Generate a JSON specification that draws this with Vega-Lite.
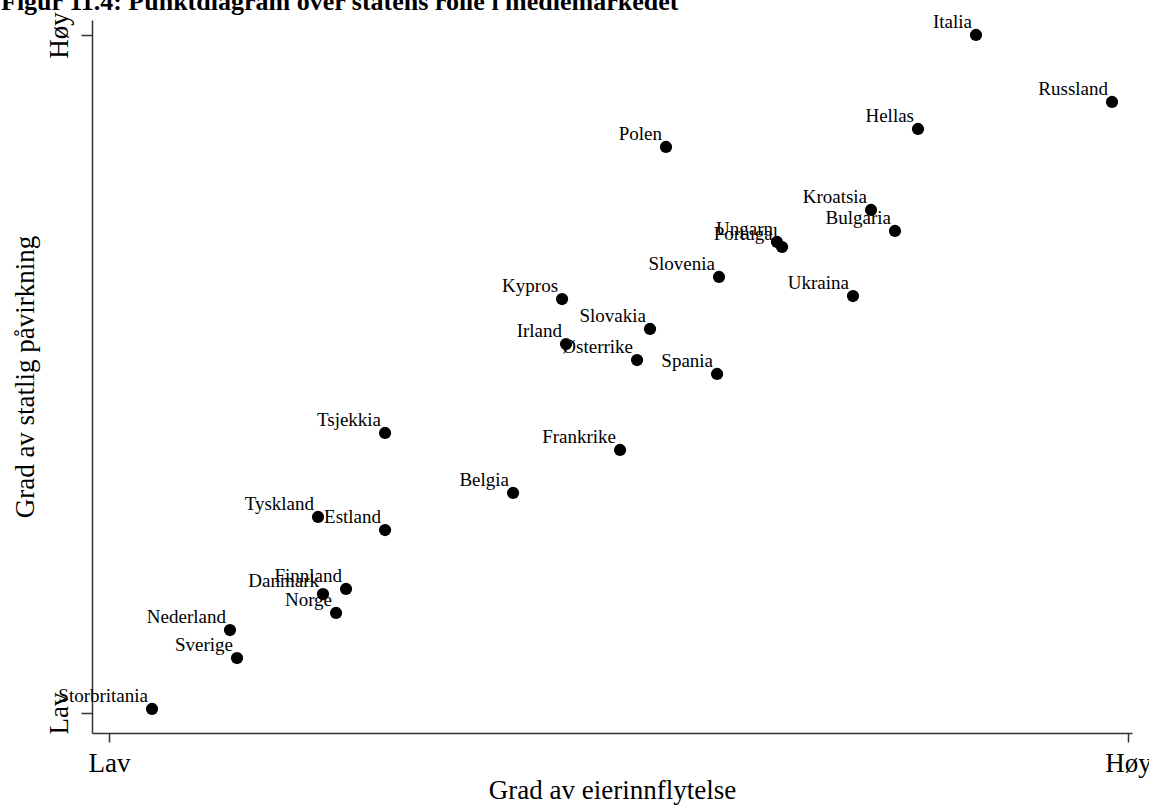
{
  "$schema": "https://vega.github.io/schema/vega-lite/v6.json",
  "autosize": {"type": "none"},
  "width": 1040,
  "height": 713,
  "padding": {"left": 92, "top": 20, "right": 17, "bottom": 73},
  "background": "white",
  "title": {
    "text": "Figur 11.4: Punktdiagram over statens rolle i mediemarkedet",
    "anchor": "start",
    "frame": "group",
    "dx": -91,
    "offset": 2,
    "dy": 26,
    "baseline": "alphabetic",
    "font": "Liberation Serif",
    "fontSize": 26,
    "fontWeight": "bold",
    "color": "black"
  },
  "config": {
    "view": {"stroke": null},
    "axis": {
      "grid": false,
      "domainColor": "#333333",
      "domainWidth": 1.5,
      "tickColor": "#333333",
      "tickWidth": 1.5,
      "labelFont": "Liberation Serif",
      "labelFontSize": 27,
      "labelColor": "black",
      "titleFont": "Liberation Serif",
      "titleFontSize": 27,
      "titleFontWeight": "normal",
      "titleColor": "black"
    }
  },
  "data": {
    "values": [
      {"land": "Italia", "eier": 8.508, "stat": 10.0},
      {"land": "Russland", "eier": 9.843, "stat": 9.012},
      {"land": "Hellas", "eier": 7.939, "stat": 8.614},
      {"land": "Polen", "eier": 5.466, "stat": 8.348},
      {"land": "Kroatsia", "eier": 7.478, "stat": 7.419},
      {"land": "Bulgaria", "eier": 7.713, "stat": 7.109},
      {"land": "Ungarn", "eier": 6.555, "stat": 6.947},
      {"land": "Portugal", "eier": 6.605, "stat": 6.873},
      {"land": "Slovenia", "eier": 5.986, "stat": 6.431},
      {"land": "Ukraina", "eier": 7.301, "stat": 6.15},
      {"land": "Kypros", "eier": 4.446, "stat": 6.106},
      {"land": "Slovakia", "eier": 5.309, "stat": 5.664},
      {"land": "Irland", "eier": 4.485, "stat": 5.442},
      {"land": "Østerrike", "eier": 5.182, "stat": 5.206},
      {"land": "Spania", "eier": 5.967, "stat": 5.0},
      {"land": "Tsjekkia", "eier": 2.709, "stat": 4.13},
      {"land": "Frankrike", "eier": 5.015, "stat": 3.879},
      {"land": "Belgia", "eier": 3.965, "stat": 3.245},
      {"land": "Tyskland", "eier": 2.051, "stat": 2.891},
      {"land": "Estland", "eier": 2.709, "stat": 2.699},
      {"land": "Finnland", "eier": 2.326, "stat": 1.829},
      {"land": "Danmark", "eier": 2.1, "stat": 1.755},
      {"land": "Norge", "eier": 2.228, "stat": 1.475},
      {"land": "Nederland", "eier": 1.187, "stat": 1.224},
      {"land": "Sverige", "eier": 1.256, "stat": 0.811},
      {"land": "Storbritania", "eier": 0.422, "stat": 0.059}
    ]
  },
  "encoding": {
    "x": {
      "field": "eier",
      "type": "quantitative",
      "scale": {"domain": [-0.167, 10.039], "nice": false, "zero": false},
      "axis": {
        "title": "Grad av eierinnflytelse",
        "values": [0, 10],
        "labelExpr": "datum.value == 0 ? 'Lav' : 'Høy'",
        "tickSize": 9,
        "labelPadding": 8,
        "titlePadding": 1
      }
    },
    "y": {
      "field": "stat",
      "type": "quantitative",
      "scale": {"domain": [-0.295, 10.221], "nice": false, "zero": false},
      "axis": {
        "title": "Grad av statlig påvirkning",
        "values": [0, 10],
        "labelExpr": "datum.value == 0 ? 'Lav' : 'Høy'",
        "labelAngle": -90,
        "tickSize": 11,
        "labelPadding": 8,
        "titlePadding": 6
      }
    }
  },
  "layer": [
    {
      "mark": {"type": "circle", "size": 150, "color": "black", "opacity": 1}
    },
    {
      "mark": {
        "type": "text",
        "align": "right",
        "baseline": "alphabetic",
        "dx": -4,
        "dy": -7,
        "font": "Liberation Serif",
        "fontSize": 19,
        "color": "black"
      },
      "encoding": {"text": {"field": "land"}}
    }
  ]
}
